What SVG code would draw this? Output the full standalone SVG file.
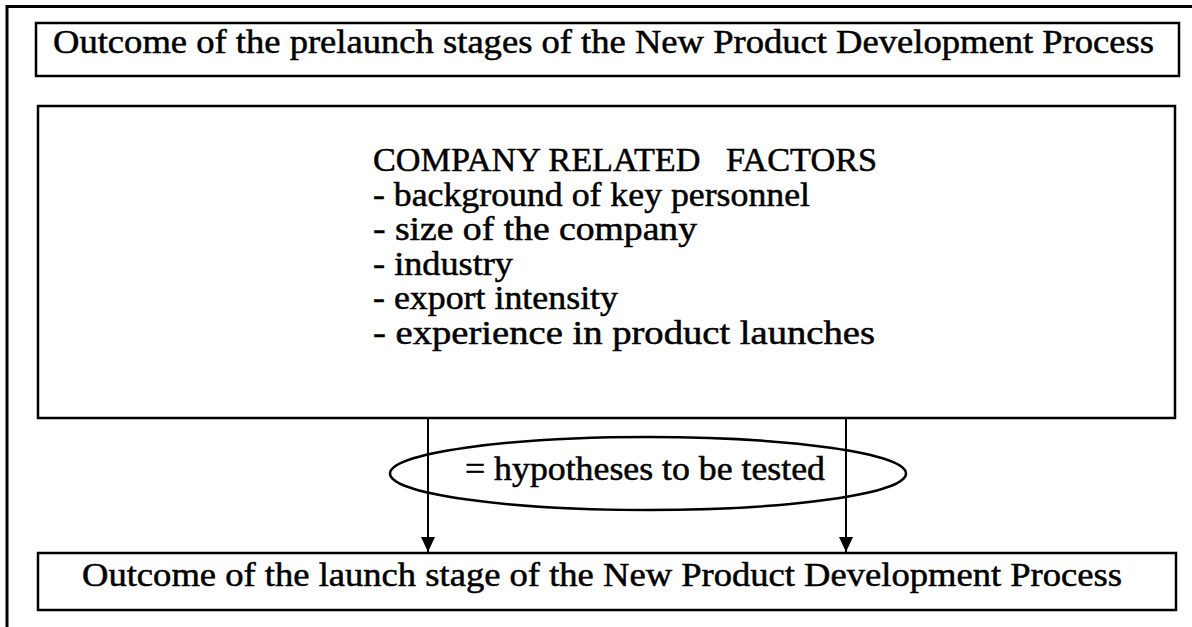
<svg xmlns="http://www.w3.org/2000/svg" width="1192" height="627" viewBox="0 0 1192 627">
<style>
  .box { fill: #fff; stroke: #000; stroke-width: 2.5; }
  .frame { fill: none; stroke: #000; stroke-width: 3; }
  .t { font-family: "Liberation Serif", "Times New Roman", serif; font-size: 33px; fill: #000; stroke: #000; stroke-width: 0.5; white-space: pre; }
  .conn { stroke: #000; stroke-width: 2; fill: none; }
</style>
<defs>
  <marker id="arrow" markerUnits="userSpaceOnUse" markerWidth="16" markerHeight="14" refX="15" refY="7" orient="auto">
    <path d="M0,0 L15,7 L0,14 Z" fill="#000"/>
  </marker>
</defs>
<rect width="1192" height="627" fill="#fff"/>
<g id="frame">
  <path class="frame" d="M7,627 L7,6.5 L1192,6.5"/>
</g>
<g id="prelaunch">
  <rect class="box" x="36" y="23" width="1143" height="53"/>
  <text class="t" x="53" y="53" textLength="1101" lengthAdjust="spacingAndGlyphs">Outcome of the prelaunch stages of the New Product Development Process</text>
</g>
<g id="factors">
  <rect class="box" x="38" y="106" width="1137" height="312"/>
  <text class="t" x="373" y="171" textLength="504" lengthAdjust="spacingAndGlyphs" xml:space="preserve">COMPANY RELATED   FACTORS</text>
  <text class="t" x="373" y="205.5" textLength="437" lengthAdjust="spacingAndGlyphs">- background of key personnel</text>
  <text class="t" x="373" y="240" textLength="324" lengthAdjust="spacingAndGlyphs">- size of the company</text>
  <text class="t" x="373" y="274.5" textLength="140" lengthAdjust="spacingAndGlyphs">- industry</text>
  <text class="t" x="373" y="309" textLength="245" lengthAdjust="spacingAndGlyphs">- export intensity</text>
  <text class="t" x="373" y="343.5" textLength="502" lengthAdjust="spacingAndGlyphs">- experience in product launches</text>
</g>
<g id="launch">
  <rect class="box" x="38" y="553" width="1138" height="57"/>
  <text class="t" x="82" y="586" textLength="1040" lengthAdjust="spacingAndGlyphs">Outcome of the launch stage of the New Product Development Process</text>
</g>
<g id="connectors">
  <line class="conn" x1="428" y1="418" x2="428" y2="552" marker-end="url(#arrow)"/>
  <line class="conn" x1="846" y1="418" x2="846" y2="552" marker-end="url(#arrow)"/>
</g>
<g id="hypotheses">
  <ellipse cx="648" cy="473.5" rx="258" ry="36.5" fill="none" stroke="#000" stroke-width="2.5"/>
  <text class="t" x="465" y="480" textLength="360" lengthAdjust="spacingAndGlyphs">= hypotheses to be tested</text>
</g>
</svg>
